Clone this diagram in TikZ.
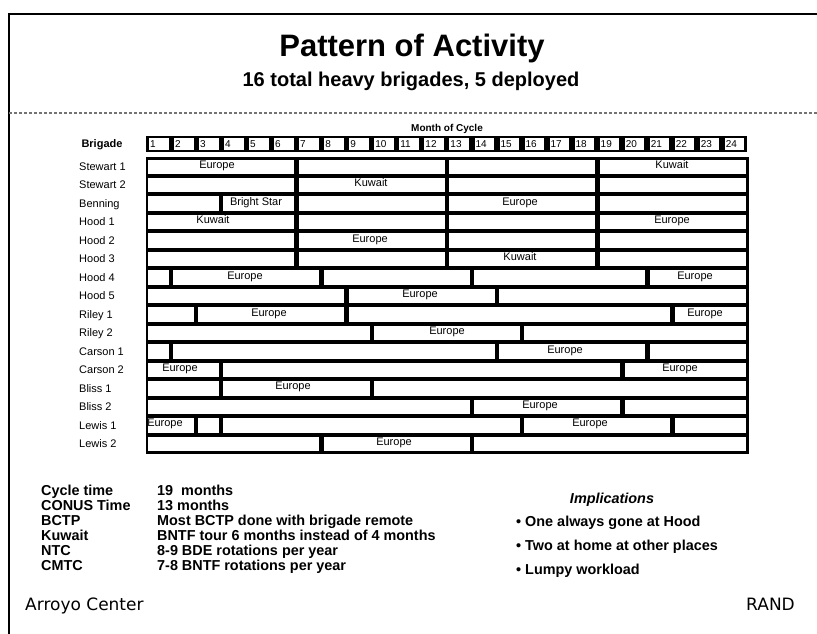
\documentclass[tikz,border=0pt]{standalone}
\usepackage{fontspec}
\setmainfont{Liberation Sans}
\newfontfamily\randfont{DejaVu Sans}
\usepackage{tikz}
\tikzset{
  titletext/.style={font=\bfseries\fontsize{31}{31}\selectfont, anchor=base, inner sep=0pt},
  subtitletext/.style={font=\bfseries\fontsize{20}{20}\selectfont, anchor=base, inner sep=0pt},
  headtext/.style={font=\bfseries\fontsize{10}{10}\selectfont, anchor=base, inner sep=0pt},
  monthnum/.style={font=\fontsize{10}{10}\selectfont, anchor=base west, inner sep=0pt},
  rowlabel/.style={font=\fontsize{11}{11}\selectfont, anchor=base west, inner sep=0pt},
  barlabel/.style={font=\fontsize{11}{11}\selectfont, anchor=base, inner sep=0pt},
  notetext/.style={font=\bfseries\fontsize{14.4}{14.4}\selectfont, anchor=base west, inner sep=0pt},
  foottext/.style={font=\randfont\fontsize{17}{17}\selectfont, inner sep=0pt},
}

\begin{document}
\begin{tikzpicture}[x=1pt,y=-1pt]
        \useasboundingbox (0,0) rectangle (817,634);
        \fill[white] (0,0) rectangle (817,634);
        \draw[line width=2pt] (9,634) -- (9,14) -- (817,14);
        \draw[black!55, line width=1.3pt, densely dashed] (9,113) -- (817,113);

        \node[titletext] (title) at (412,57) {Pattern of Activity};
        \node[subtitletext] (subtitle) at (411,86) {16 total heavy brigades, 5 deployed};

        \node[headtext] (month) at (447,131.5) {Month of Cycle};
        \node[headtext, font=\bfseries\fontsize{11}{11}\selectfont] (brigade) at (102,147) {Brigade};

        \fill (146,135.5) rectangle (747,151.5);
        \foreach \m in {1,...,24}{
          \fill[white] ({146+25.04*(\m-1)+3},137.7) rectangle ({146+25.04*\m-2.5},149.7);
          \node[monthnum] (m\m) at ({146+25.04*(\m-1)+3.8},147.6) {\m};
        }

        \fill (146,156.5) rectangle (748.5,454);
        \foreach \i/\cuts in {0/{6,12,18,24}, 1/{6,12,18,24}, 2/{3,6,12,18,24}, 3/{6,12,18,24},
            4/{6,12,18,24}, 5/{6,12,18,24}, 6/{1,7,13,20,24}, 7/{8,14,24}, 8/{2,8,21,24},
            9/{9,15,24}, 10/{1,14,20,24}, 11/{3,19,24}, 12/{3,9,24}, 13/{13,19,24},
            14/{2,3,15,21,24}, 15/{7,13,24}}{
          \foreach \c [remember=\c as \p (initially 0)] in \cuts
            \fill[white] ({146+25.08*\p+2.2},{159.5+18.47*\i}) rectangle ({146+25.08*\c-2.2},{174+18.47*\i});
        }

        \foreach \i/\t in {0/Stewart 1, 1/Stewart 2, 2/Benning, 3/Hood 1, 4/Hood 2, 5/Hood 3,
            6/Hood 4, 7/Hood 5, 8/Riley 1, 9/Riley 2, 10/Carson 1, 11/Carson 2, 12/Bliss 1,
            13/Bliss 2, 14/Lewis 1, 15/Lewis 2}
          \node[rowlabel] (r\i) at (79,{170.5+18.47*\i}) {\t};

        \foreach \i/\x/\t in {0/217/Europe, 0/672/Kuwait, 1/371/Kuwait, 2/256/Bright Star,
            2/520/Europe, 3/213/Kuwait, 3/672/Europe, 4/370/Europe, 5/520/Kuwait, 6/245/Europe,
            6/695/Europe, 7/420/Europe, 8/269/Europe, 8/705/Europe, 9/447/Europe, 10/565/Europe,
            11/180/Europe, 11/680/Europe, 12/293/Europe, 13/540/Europe, 14/165/Europe,
            14/590/Europe, 15/394/Europe}
          \node[barlabel] (b\i-\x) at (\x,{168.3+18.47*\i}) {\t};

        \foreach \k/\a/\b in {0/Cycle time/19\ \ months, 1/CONUS Time/13 months,
            2/BCTP/Most BCTP done with brigade remote, 3/Kuwait/BNTF tour 6 months instead of 4 months,
            4/NTC/8-9 BDE rotations per year, 5/CMTC/7-8 BNTF rotations per year}{
          \node[notetext] (key\k) at (41,{495+15*\k}) {\a};
          \node[notetext] (val\k) at (157,{495+15*\k}) {\b};
        }

        \node[notetext, anchor=base, font=\bfseries\itshape\fontsize{14.4}{14.4}\selectfont] (impl) at (612,503) {Implications};
        \node[notetext] (impl1) at (516,526) {\textbullet\ One always gone at Hood};
        \node[notetext] (impl2) at (516,550) {\textbullet\ Two at home at other places};
        \node[notetext] (impl3) at (516,574) {\textbullet\ Lumpy workload};

        \node[foottext, anchor=base west] (arroyo) at (25,610) {Arroyo Center};
        \node[foottext, anchor=base east] (rand) at (795,610) {RAND};
\end{tikzpicture}
\end{document}
